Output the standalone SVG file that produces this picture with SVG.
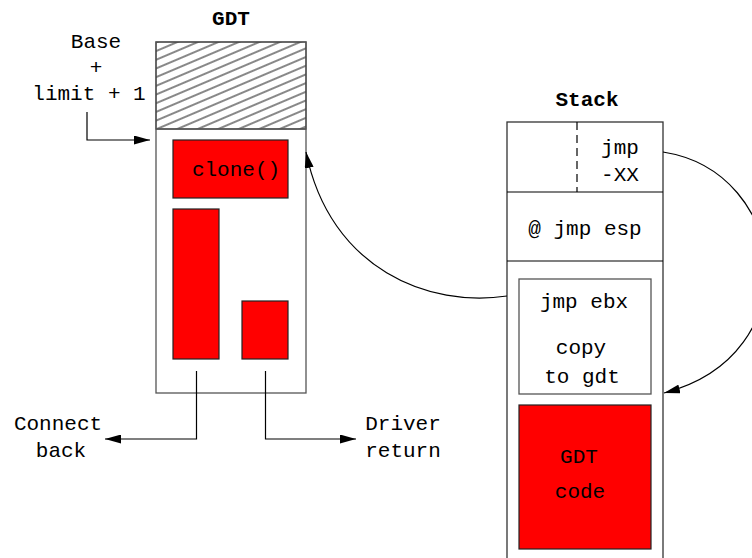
<svg xmlns="http://www.w3.org/2000/svg" width="752" height="558" viewBox="0 0 752 558">
<style>
text{font-family:"Liberation Mono","Courier New",monospace;font-size:21px;fill:#000}
.b{font-weight:bold}
.m{text-anchor:middle}
.box{fill:#fff;stroke:#555;stroke-width:1.3}
.red{fill:#ff0000;stroke:#222;stroke-width:1.2}
.ln{fill:none;stroke:#000;stroke-width:1.2}
</style>
<defs>
<pattern id="hatch" patternUnits="userSpaceOnUse" width="8" height="8" patternTransform="rotate(-23)">
<line x1="0" y1="4" x2="8" y2="4" stroke="#111" stroke-width="1"/>
</pattern>
<marker id="ah" markerUnits="userSpaceOnUse" markerWidth="17" markerHeight="9" refX="16" refY="4.5" orient="auto">
<path d="M0,0 L16,4.5 L0,9 z" fill="#000"/>
</marker>
</defs>
<g id="gdt">
<text class="b m" x="231" y="25">GDT</text>
<rect class="box" x="156" y="42" width="150" height="351"/>
<rect x="156" y="42" width="150" height="87" fill="url(#hatch)" stroke="#555" stroke-width="1.3"/>
<line x1="156" y1="129" x2="306" y2="129" stroke="#555" stroke-width="1.3"/>
</g>
<g id="clone">
<rect class="red" x="173" y="140" width="115" height="58"/>
<text class="m" x="236" y="176">clone()</text>
</g>
<g id="block-tall"><rect class="red" x="173" y="209" width="46" height="150"/></g>
<g id="block-small"><rect class="red" x="242" y="301" width="46" height="58"/></g>
<g id="base-label">
<text class="m" x="96" y="48">Base</text>
<text class="m" x="96" y="74">+</text>
<text class="m" x="89" y="100">limit + 1</text>
</g>
<g id="connect-back">
<text class="m" x="58" y="430">Connect</text>
<text class="m" x="61" y="457">back</text>
</g>
<g id="driver-return">
<text class="m" x="403" y="430">Driver</text>
<text class="m" x="403" y="457">return</text>
</g>
<g id="stack">
<text class="b m" x="587" y="106">Stack</text>
<rect x="507" y="122" width="156" height="450" fill="#fff" stroke="#333" stroke-width="1.3"/>
<line x1="507" y1="192" x2="663" y2="192" stroke="#000" stroke-width="1.2"/>
<line x1="507" y1="261" x2="663" y2="261" stroke="#000" stroke-width="1.2"/>
<line x1="577" y1="122" x2="577" y2="192" stroke="#000" stroke-width="1.2" stroke-dasharray="8,5"/>
<text class="m" x="620" y="154">jmp</text>
<text class="m" x="620" y="181">-XX</text>
<text class="m" x="585" y="235">@ jmp esp</text>
</g>
<g id="jmp-ebx">
<rect class="box" x="519" y="279" width="132" height="115"/>
<text class="m" x="584" y="308">jmp ebx</text>
<text class="m" x="581" y="354">copy</text>
<text class="m" x="582" y="383">to gdt</text>
</g>
<g id="gdt-code">
<rect class="red" x="519" y="405" width="132" height="144"/>
<text class="m" x="579" y="463">GDT</text>
<text class="m" x="580" y="498">code</text>
</g>
<g id="connectors">
<path class="ln" d="M87,112 V140 H150" marker-end="url(#ah)"/>
<path class="ln" d="M196.5,371 V439 H105" marker-end="url(#ah)"/>
<path class="ln" d="M265.5,371 V439 H356" marker-end="url(#ah)"/>
<path class="ln" d="M507,296 C430,308 330,270 306,152" marker-end="url(#ah)"/>
<path class="ln" d="M663,152 C790,172 810,355 664,393" marker-end="url(#ah)"/>
</g>
</svg>
